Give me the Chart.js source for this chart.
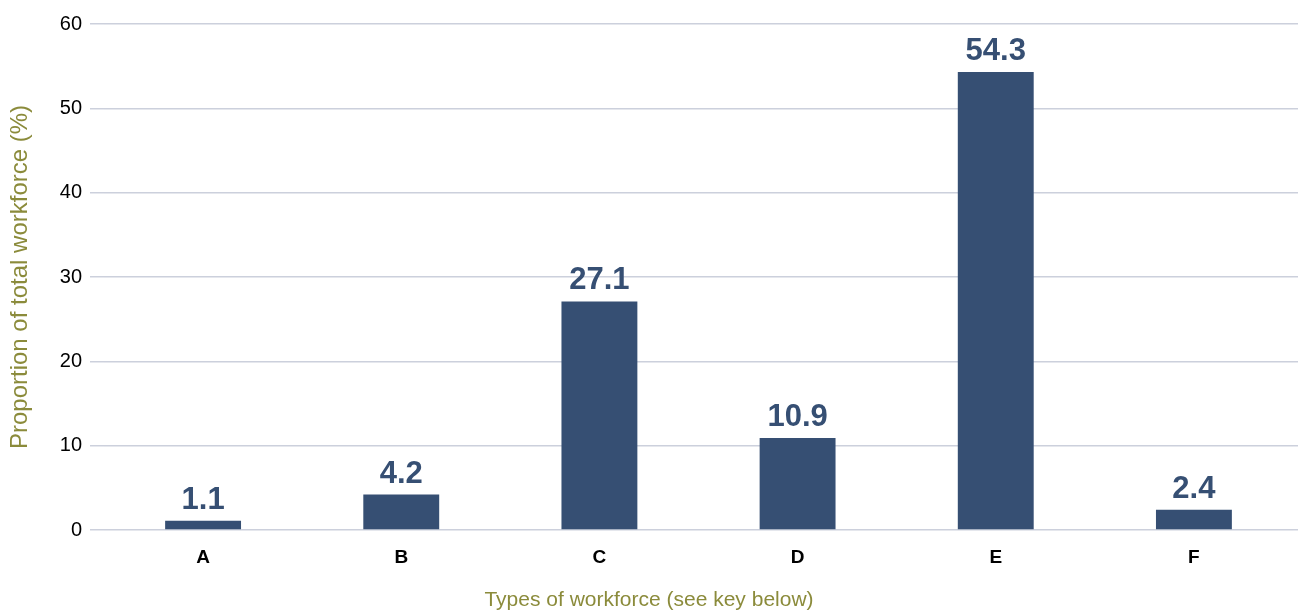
<!DOCTYPE html>
<html>
<head>
<meta charset="utf-8">
<script src="https://cdn.jsdelivr.net/npm/chart.js@4"></script>
<style>
  html, body { margin: 0; padding: 0; background: #ffffff; }
  #wrap { width: 1298px; height: 611px; position: relative; }
</style>
</head>
<body>
<div id="wrap"><canvas id="chart"></canvas></div>
<script>
// Share of the total workforce by workforce type
const categories = ['A', 'B', 'C', 'D', 'E', 'F'];
const shares = [1.1, 4.2, 27.1, 10.9, 54.3, 2.4];
const yTicks = [0, 10, 20, 30, 40, 50, 60];

const BAR = '#364f73';
const GRID = '#ccd0dc';
const OLIVE = '#8b8b3b';
const FONT = "'Liberation Sans', Arial, Helvetica, sans-serif";

// Writes each bar's value above it
const valueLabels = {
  id: 'valueLabels',
  afterDatasetsDraw(chart) {
    const ctx = chart.ctx;
    const meta = chart.getDatasetMeta(0);
    const data = chart.data.datasets[0].data;
    ctx.save();
    ctx.font = 'bold 31px ' + FONT;
    ctx.fillStyle = BAR;
    ctx.textAlign = 'center';
    ctx.textBaseline = 'alphabetic';
    meta.data.forEach((bar, i) => {
      ctx.fillText(data[i].toFixed(1), bar.x, bar.y - 12);
    });
    ctx.restore();
  }
};

new Chart(document.getElementById('chart'), {
  type: 'bar',
  data: {
    labels: categories,
    datasets: [{
      data: shares,
      backgroundColor: BAR,
      borderWidth: 0,
      barPercentage: 0.383,
      categoryPercentage: 1.0
    }]
  },
  options: {
    responsive: true,
    maintainAspectRatio: false,
    animation: false,
    layout: { padding: { top: 24, right: 0, left: 0, bottom: 0 } },
    plugins: {
      legend: { display: false },
      tooltip: { enabled: false },
      // Horizontal axis caption, centred across the whole canvas
      title: {
        display: true,
        position: 'bottom',
        text: 'Types of workforce (see key below)',
        color: OLIVE,
        font: { family: FONT, size: 21, weight: 'normal', lineHeight: 1.0 },
        padding: { top: 0, bottom: 0 }
      }
    },
    scales: {
      x: {
        grid: { display: false, drawTicks: false },
        border: { display: false },
        ticks: {
          color: '#000000',
          font: { family: FONT, size: 19, weight: 'bold' },
          padding: 16
        },
        afterFit(scale) { scale.height = 60; }
      },
      y: {
        min: 0,
        max: 60,
        afterBuildTicks(scale) { scale.ticks = yTicks.map(v => ({ value: v })); },
        grid: { color: GRID, lineWidth: 1.5, tickLength: 14, tickColor: GRID },
        border: { display: false },
        ticks: {
          color: '#000000',
          font: { family: FONT, size: 20 },
          padding: 8
        },
        title: {
          display: true,
          text: 'Proportion of total workforce (%)',
          color: OLIVE,
          font: { family: FONT, size: 24 },
          padding: { top: 6, bottom: 0 }
        },
        afterFit(scale) { scale.width = 104; }
      },
      yRight: {
        position: 'right',
        min: 0,
        max: 60,
        afterBuildTicks(scale) { scale.ticks = yTicks.map(v => ({ value: v })); },
        grid: { drawOnChartArea: false, color: GRID, lineWidth: 1.5, tickLength: 5, tickColor: GRID },
        border: { display: false },
        ticks: { display: false }
      }
    }
  },
  plugins: [valueLabels]
});
</script>
</body>
</html>
